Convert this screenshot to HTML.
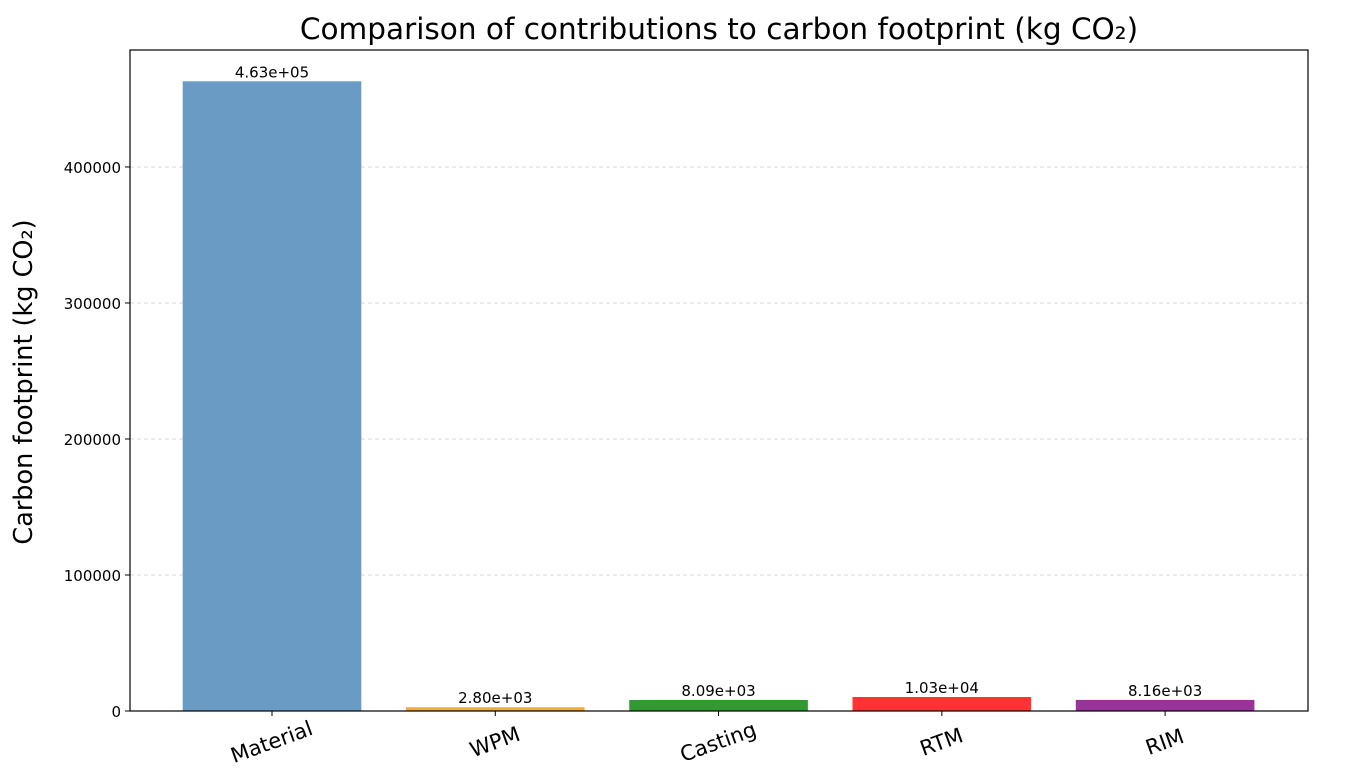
<!DOCTYPE html>
<html><head><meta charset="utf-8"><style>
body{margin:0;background:#fff;width:1356px;height:776px;overflow:hidden;font-family:"Liberation Sans","DejaVu Sans",sans-serif}
</style></head><body>
<svg id="chart" width="1356" height="776" xmlns="http://www.w3.org/2000/svg" font-family="DejaVu Sans, Liberation Sans, sans-serif">
<text x="719" y="39" text-anchor="middle" font-size="29.5" fill="#000">Comparison of contributions to carbon footprint (kg CO₂)</text>
<text transform="translate(32,382) rotate(-90)" text-anchor="middle" font-size="25.5" fill="#000">Carbon footprint (kg CO₂)</text>
<g id="grid"></g><g id="bars"></g><g id="ticks"></g>
<rect x="130" y="50" width="1178" height="661" fill="none" stroke="#000" stroke-width="1.2"/>
</svg>
<script>
const categories=["Material","WPM","Casting","RTM","RIM"];
const values=[463000,2800,8090,10300,8160];
const valueLabels=["4.63e+05","2.80e+03","8.09e+03","1.03e+04","8.16e+03"];
const colors=["#6a9bc4","#f5ab35","#339933","#ff3333","#993399"];
const yTicks=[0,100000,200000,300000,400000];
const ns="http://www.w3.org/2000/svg";
const L=130,R=1308,T=50,B=711,yMax=486000,xMin=-0.636,xMax=4.64;
const y=v=>B-v/yMax*(B-T);
const x=i=>L+(i-xMin)/(xMax-xMin)*(R-L);
const bw=0.8*(R-L)/(xMax-xMin);
function mk(t,a,p){const e=document.createElementNS(ns,t);for(const k in a)e.setAttribute(k,a[k]);document.getElementById(p).appendChild(e);return e;}
yTicks.forEach(v=>{
  if(v>0){const g=mk('line',{x1:L,x2:R,y1:y(v),y2:y(v),stroke:"#ccc","stroke-dasharray":"4,3","stroke-width":0.8},'grid');
  
  }
  const tl=mk('line',{x1:L-5,x2:L,y1:y(v),y2:y(v),stroke:"#000"},'ticks');
  
  
  const t=mk('text',{x:L-9,y:y(v)+6,"text-anchor":"end","font-size":"15"},'ticks');t.textContent=v;
  
  
});
categories.forEach((c,i)=>{
  const cx=x(i);
  const r=mk('rect',{x:cx-bw/2,y:y(values[i]),width:bw,height:B-y(values[i]),fill:colors[i]},'bars');
  
  
  const vl=mk('text',{x:cx,y:y(values[i])-4,"text-anchor":"middle","font-size":"15"},'bars');vl.textContent=valueLabels[i];
  
  
  const tk=mk('line',{x1:cx,x2:cx,y1:B,y2:B+5,stroke:"#000"},'ticks');
  
  
  const t=mk('text',{x:cx,y:B+38,"text-anchor":"middle","font-size":"21",transform:`rotate(-20 ${cx} ${B+32})`},'ticks');t.textContent=c;
  
  
});
</script>
</body></html>
